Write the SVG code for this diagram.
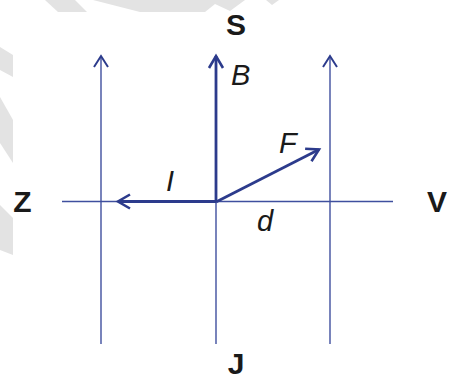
<svg xmlns="http://www.w3.org/2000/svg" width="449" height="379" viewBox="0 0 449 379">
<defs>
<style>
.wm{fill:#e3e3e3;stroke:none}
.thin{stroke:#3f4f9e;stroke-width:1.4;fill:none}
.thick{stroke:#2c3b8c;stroke-width:2.8;fill:none}
.lb{font-family:"Liberation Sans",Arial,sans-serif;font-weight:bold;font-size:30px;fill:#1a1a1a}
.li{font-family:"Liberation Sans",Arial,sans-serif;font-style:italic;font-size:29px;fill:#1a1a1a}
</style>
<marker id="ahThin" markerUnits="userSpaceOnUse" markerWidth="30" markerHeight="30" refX="0" refY="0" viewBox="-15 -15 30 30" orient="auto">
<path d="M-11,-7 L0,0 L-11,7" fill="none" stroke="#2c3b8c" stroke-width="2"/>
</marker>
<marker id="ahThick" markerUnits="userSpaceOnUse" markerWidth="30" markerHeight="30" refX="0" refY="0" viewBox="-15 -15 30 30" orient="auto">
<path d="M-12,-7 L0,0 L-12,7" fill="none" stroke="#2c3b8c" stroke-width="2.6"/>
</marker>
</defs>
<rect width="449" height="379" fill="#ffffff"/>
<g id="watermark">
<polygon class="wm" points="45,0 75,0 87,12 58,12"/>
<polygon class="wm" points="93,0 245,0 230,11 215,4 205,12 140,12"/>
<polygon class="wm" points="266,0 279,0 272,5"/>
<polygon class="wm" points="0,47 13,55 13,77 0,70"/>
<polygon class="wm" points="0,97 13,120 13,163 0,143"/>
<polygon class="wm" points="0,205 13,218 13,255 0,250"/>
</g>
<g id="connectors">
<line id="axis-h" class="thin" x1="62" y1="201.5" x2="393" y2="201.5"/>
<line id="field-left" class="thin" x1="101" y1="344" x2="101" y2="56" marker-end="url(#ahThin)"/>
<line id="field-right" class="thin" x1="330" y1="344" x2="330" y2="56" marker-end="url(#ahThin)"/>
<line id="field-center-low" class="thin" x1="216" y1="344" x2="216" y2="201.5"/>
<line id="arrow-B" class="thick" x1="216" y1="202" x2="216" y2="56" marker-end="url(#ahThick)"/>
<line id="arrow-I" class="thick" x1="216" y1="201.5" x2="118" y2="201.5" marker-end="url(#ahThick)"/>
<line id="arrow-F" class="thick" x1="216" y1="202" x2="319" y2="149.5" marker-end="url(#ahThick)"/>
</g>
<g id="node-S"><text class="lb" x="236" y="35" text-anchor="middle">S</text></g>
<g id="node-J"><text class="lb" x="236" y="374" text-anchor="middle">J</text></g>
<g id="node-Z"><text class="lb" x="22.5" y="212" text-anchor="middle">Z</text></g>
<g id="node-V"><text class="lb" x="427" y="212">V</text></g>
<g id="label-B"><text class="li" x="231" y="85">B</text></g>
<g id="label-F"><text class="li" x="279" y="153">F</text></g>
<g id="label-I"><text class="li" x="166" y="191">I</text></g>
<g id="label-d"><text class="li" x="257" y="231">d</text></g>
</svg>
